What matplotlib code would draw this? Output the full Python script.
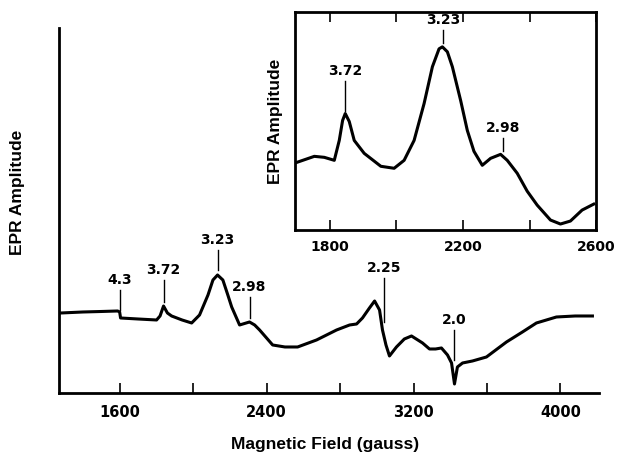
import matplotlib.pyplot as plt
from matplotlib.ticker import FixedLocator

# Main spectrum (field in gauss, amplitude in arbitrary units)
main_field = [1280, 1400, 1500, 1589, 1600, 1605, 1700, 1801, 1820, 1839, 1860, 1883,
              1940, 1992, 2035, 2081, 2108, 2133, 2162, 2189, 2210, 2253, 2307, 2335,
              2362, 2433, 2500, 2569, 2672, 2781, 2852, 2890, 2922, 2960, 2988, 3015,
              3031, 3050, 3069, 3107, 3150, 3189, 3249, 3287, 3320, 3352, 3385, 3407,
              3423, 3439, 3467, 3521, 3597, 3706, 3793, 3869, 3978, 4080, 4174]
main_amp = [0, 1, 1.5, 2, 1, -5, -6, -7, -3, 7, 0, -3,
            -7, -10, -2, 18, 33, 38, 33, 18, 6, -12, -9, -12,
            -17, -32, -34, -34, -27, -17, -12, -11, -5, 5, 12, 3,
            -17, -32, -43, -34, -26, -23, -30, -36, -36, -35, -42, -50,
            -71, -54, -50, -48, -44, -29, -19, -10, -4, -3, -3]

# g-value markers on the main spectrum: label, field, line bottom, line top
main_g_labels = ['4.3', '3.72', '3.23', '2.98', '2.25', '2.0']
main_g_field = [1600, 1839, 2133, 2307, 3040, 3420]
main_g_low = [3, 11, 43, -5, -9, -47]
main_g_high = [23, 33, 63, 16, 35, -17]

# Inset (zoom on 1700-2600 gauss)
inset_field = [1701, 1753, 1783, 1813, 1828, 1838, 1846, 1858, 1873, 1903, 1953,
               1993, 2023, 2053, 2083, 2108, 2128, 2138, 2153, 2168, 2193, 2213,
               2233, 2258, 2283, 2313, 2333, 2363, 2393, 2423, 2463, 2493, 2523,
               2558, 2593]
inset_amp = [71, 77, 76, 73, 93, 113, 120, 112, 93, 80, 67,
             65, 73, 93, 130, 167, 185, 187, 182, 167, 133, 103,
             82, 68, 75, 79, 73, 60, 42, 28, 13, 9, 12,
             23, 29]

inset_g_labels = ['3.72', '3.23', '2.98']
inset_g_field = [1845, 2140, 2321]
inset_g_low = [123, 191, 82]
inset_g_high = [153, 204, 95]

plt.rcParams['font.family'] = 'DejaVu Sans'
plt.rcParams['font.weight'] = 'bold'
label_font = dict(family='Liberation Sans', fontweight='bold', fontsize=12.5)

fig = plt.figure(figsize=(6.24, 4.67), dpi=100)

# ---- main axes
ax = fig.add_axes([0.0946, 0.1585, 0.8654, 0.7815])
ax.plot(main_field, main_amp, color='black', lw=2.2)
for lab, x, lo, hi in zip(main_g_labels, main_g_field, main_g_low, main_g_high):
    ax.plot([x, x], [lo, hi], color='black', lw=1)
    ax.text(x, hi + 3, lab, ha='center', va='bottom', fontsize=10, fontweight='bold')

ax.set_xlim(1270, 4210)
ax.set_ylim(-80, 285)
ax.spines['top'].set_visible(False)
ax.spines['right'].set_visible(False)
ax.spines['left'].set_linewidth(2)
ax.spines['bottom'].set_linewidth(2)
ax.set_yticks([])
ax.xaxis.set_major_locator(FixedLocator([1600, 2400, 3200, 4000]))
ax.xaxis.set_minor_locator(FixedLocator([2000, 2800, 3600]))
ax.tick_params(axis='x', which='both', direction='in', length=7, width=1.2,
               labelsize=10.5, pad=8.5)
ax.set_xlabel('Magnetic Field (gauss)', **label_font)
ax.xaxis.label.set_va('center')
ax.xaxis.set_label_coords(0.4935, -0.142)
ax.set_ylabel('EPR Amplitude', **label_font)
ax.yaxis.label.set_va('center')
ax.yaxis.set_label_coords(-0.076, 0.55)

# ---- inset
ins = fig.add_axes([0.4728, 0.5075, 0.4824, 0.4668])
ins.plot(inset_field, inset_amp, color='black', lw=2.2)
for lab, x, lo, hi in zip(inset_g_labels, inset_g_field, inset_g_low, inset_g_high):
    ins.plot([x, x], [lo, hi], color='black', lw=1)
    ins.text(x, hi + 3, lab, ha='center', va='bottom', fontsize=10, fontweight='bold')

ins.set_xlim(1695, 2600)
ins.set_ylim(3, 222)
for s in ins.spines.values():
    s.set_linewidth(2)
ins.set_yticks([])
ins.xaxis.set_major_locator(FixedLocator([1800, 2200, 2600]))
ins.xaxis.set_minor_locator(FixedLocator([2000, 2400]))
ins.tick_params(axis='x', which='both', direction='in', top=True, length=7, width=1.2,
                labelsize=10, pad=7)
ins.set_ylabel('EPR Amplitude', **label_font)
ins.yaxis.label.set_va('center')
ins.yaxis.set_label_coords(-0.066, 0.5)

fig.savefig('out.png', dpi=100)
